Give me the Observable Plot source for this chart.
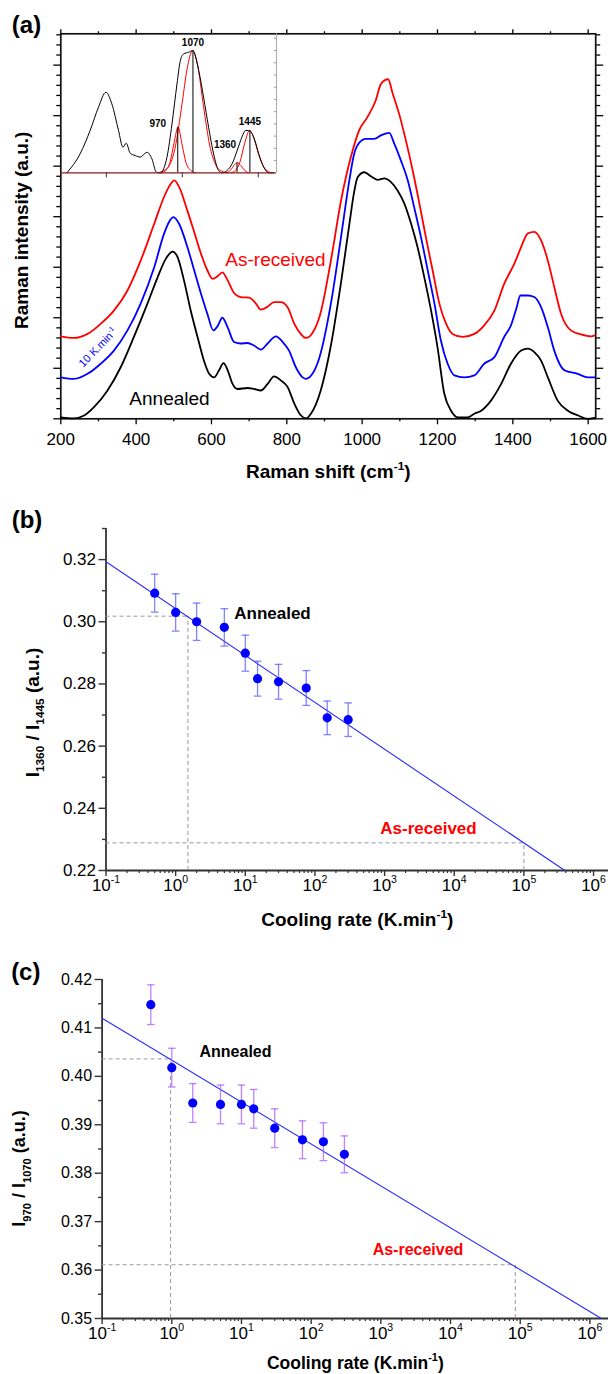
<!DOCTYPE html>
<html><head><meta charset="utf-8">
<script src="https://cdn.jsdelivr.net/npm/d3@7"></script>
<script src="https://cdn.jsdelivr.net/npm/@observablehq/plot@0.6"></script>
<style>
body{margin:0;background:#fff;}
#root{position:relative;width:608px;height:1374px;overflow:hidden;}
#root svg{display:block;}
#pa{position:relative;width:608px;height:480px;}
#pa > svg.inset{position:absolute;left:0;top:0;}
</style></head><body>
<div id="root"><div id="pa"></div><div id="pb"></div><div id="pc"></div></div>
<script>
// ---------------- Panel (a): Raman spectra ----------------
const annealedShift = [200,235,262,288,324,359,394,430,457,479,497,510,527,545,563,580,594,607,620,632,643,656,669,696,713,731,749,766,784,802,820,837,851,864,890,917,944,966,979,988,1006,1023,1041,1059,1076,1094,1112,1130,1147,1165,1183,1200,1218,1236,1254,1280,1298,1316,1342,1369,1395,1422,1440,1457,1475,1493,1519,1546,1572,1599,1617];
const annealedInt   = [0.03,0.01,0.065,0.23,0.56,1.02,1.62,2.28,2.80,3.17,3.31,3.20,2.74,2.14,1.62,1.15,0.89,0.82,0.96,1.10,0.96,0.69,0.59,0.61,0.59,0.56,0.69,0.84,0.76,0.63,0.30,0.07,0.01,0.10,0.56,1.45,2.70,3.85,4.50,4.78,4.88,4.80,4.73,4.76,4.69,4.52,4.26,3.86,3.40,2.80,2.14,1.42,0.50,0.16,0.03,0.03,0.10,0.16,0.36,0.69,1.09,1.35,1.39,1.32,1.15,0.82,0.36,0.16,0.07,0.00,0.02];
const cooled10Shift = [200,235,271,306,341,377,412,448,474,487,499,514,536,554,572,589,605,616,629,643,660,678,696,713,731,749,771,789,806,824,842,851,868,886,917,944,966,979,992,1010,1032,1050,1072,1085,1103,1121,1138,1156,1174,1192,1209,1227,1245,1271,1298,1324,1351,1377,1395,1410,1420,1440,1457,1475,1493,1510,1537,1572,1599,1617];
const cooled10Int   = [0.82,0.79,0.89,1.09,1.35,1.75,2.28,3.00,3.66,3.89,3.99,3.86,3.40,2.94,2.48,2.08,1.75,1.83,2.00,1.81,1.52,1.49,1.50,1.45,1.37,1.49,1.63,1.52,1.35,1.02,0.82,0.79,0.89,1.20,2.28,3.60,4.72,5.25,5.46,5.54,5.54,5.61,5.66,5.45,5.11,4.72,4.19,3.60,2.94,2.28,1.55,1.09,0.86,0.82,0.86,1.09,1.22,1.62,1.85,2.20,2.44,2.44,2.41,2.21,1.81,1.35,0.96,0.89,0.82,0.82];
const asReceivedShift = [200,235,271,306,341,377,412,448,474,487,501,514,536,554,572,589,603,616,629,643,660,678,700,718,731,749,766,784,802,820,837,851,868,888,917,944,970,992,1014,1036,1050,1069,1081,1098,1116,1134,1152,1169,1187,1205,1223,1240,1267,1298,1324,1351,1377,1404,1422,1440,1457,1475,1493,1510,1528,1554,1581,1608,1617];
const asReceivedInt   = [1.63,1.60,1.68,1.88,2.14,2.54,3.13,3.86,4.39,4.59,4.72,4.59,4.12,3.70,3.27,2.94,2.77,2.82,2.90,2.74,2.49,2.41,2.40,2.28,2.16,2.22,2.31,2.31,2.21,1.88,1.68,1.60,1.70,2.05,3.13,4.32,5.18,5.71,5.97,6.30,6.63,6.72,6.44,6.04,5.51,4.92,4.26,3.60,2.94,2.28,1.88,1.68,1.62,1.68,1.85,2.14,2.67,3.07,3.40,3.67,3.70,3.53,3.13,2.61,2.08,1.75,1.67,1.63,1.65];
const shiftMajorTicks = [200,400,600,800,1000,1200,1400,1600];
const shiftMinorTicks = [300,500,700,900,1100,1300,1500];
const intMajorTicks = [0,1,2,3,4,5,6,7];
const intMinorTicks = [0.2,0.4,0.6,0.8,1.2,1.4,1.6,1.8,2.2,2.4,2.6,2.8,3.2,3.4,3.6,3.8,4.2,4.4,4.6,4.8,5.2,5.4,5.6,5.8,6.2,6.4,6.6,6.8,7.2,7.4,7.6];

// inset (deconvolution of the as-received spectrum)
const insetShift = [240,327,393,448,497,536,580,609,631,657,690,723,767,800,829,855,899,932,965,987,1009,1042,1068,1108,1140,1173,1206,1239,1262,1295,1328,1361,1394,1415,1437,1470,1503,1536,1569,1600];
const insetInt   = [0,0.155,0.346,0.536,0.659,0.564,0.346,0.209,0.242,0.160,0.141,0.128,0.168,0.114,0.005,0,0.128,0.40,0.728,0.918,0.973,0.986,1.0,0.836,0.618,0.373,0.155,0.019,0,0.019,0.074,0.182,0.297,0.346,0.346,0.291,0.155,0.046,0,0];
const peak970Shift  = [860,890,920,945,972,1000,1025,1055,1085];
const peak970Int    = [0,0.02,0.09,0.24,0.373,0.22,0.08,0.02,0];
const peak1070Shift = [850,900,950,1000,1030,1068,1100,1140,1180,1220,1260,1300];
const peak1070Int   = [0.004,0.035,0.19,0.58,0.84,1.0,0.886,0.54,0.227,0.065,0.013,0];
const peak1360Shift = [1290,1320,1340,1361,1385,1410,1435];
const peak1360Int   = [0,0.025,0.06,0.082,0.06,0.02,0];
const peak1445Shift = [1320,1350,1380,1410,1443,1475,1505,1535,1565,1590];
const peak1445Int   = [0,0.02,0.09,0.24,0.346,0.27,0.14,0.05,0.01,0];
const peakCenters = [970,1070,1360,1445];
const peakHeights = [0.373,1.0,0.082,0.346];
const peakLabels  = ["970","1070","1360","1445"];
const insetYTicks = [0.1,0.2,0.3,0.4,0.5,0.6,0.7,0.8,0.9,1.0,1.1];
const insetXTicks = [500,1000,1500];

// ---------------- Panels (b) and (c) ----------------
const coolingRates = [0.5,1,2,5,10,15,30,75,150,300];
const ratioB = [0.3092,0.3030,0.3000,0.2982,0.2899,0.2817,0.2807,0.2787,0.2691,0.2685];
const errB   = [0.0061,0.0060,0.0060,0.0060,0.0058,0.0056,0.0056,0.0056,0.0054,0.0054];
const fitRateB  = [0.1,3.87e5];
const fitRatioB = [0.3193,0.22];
const annealedB   = {rate:1.5, ratio:0.3018};
const asReceivedB = {rate:1e5, ratio:0.2289};

const ratioC = [0.4148,0.4018,0.3945,0.3942,0.3942,0.3933,0.3893,0.3869,0.3865,0.3839];
const errC   = [0.0041,0.0040,0.0040,0.0040,0.0040,0.0040,0.0040,0.0039,0.0039,0.0038];
const fitRateC  = [0.1,1.46e6];
const fitRatioC = [0.4120,0.35];
const annealedC   = {rate:0.96, ratio:0.4036};
const asReceivedC = {rate:8.5e4, ratio:0.3611};

const decadeExps = [-1,0,1,2,3,4,5,6];
const ratioTicksB = [0.22,0.24,0.26,0.28,0.30,0.32];
const ratioMinorB = [0.23,0.25,0.27,0.29,0.31,0.33];
const ratioTicksC = [0.35,0.36,0.37,0.38,0.39,0.40,0.41,0.42];
const ratioMinorC = [0.355,0.365,0.375,0.385,0.395,0.405,0.415];

// ---------------- helpers ----------------
const FONT = '"Liberation Sans", Arial, Helvetica, sans-serif';
const style = {fontFamily: FONT, fontSize: "16px", background: "transparent", color: "#000", overflow: "visible"};
const rows = (xs, ys) => xs.map((x, i) => ({x, y: ys[i]}));
const decadeTicks = decadeExps.map(e => 10 ** e);
const minorLogTicks = max => decadeExps.flatMap(e => [2,3,4,5,6,7,8,9].map(k => k * 10 ** e)).filter(v => v <= max);
const logFmt = d => "10^{" + Math.round(Math.log10(d)) + "}";
const blank = () => "";
const capSymbol = {draw(ctx) { ctx.moveTo(-3.8, 0); ctx.lineTo(3.8, 0); }};
const C = {textAnchor: "middle", lineAnchor: "middle", text: d => d};

function richText(root) {
  const NS = "http://www.w3.org/2000/svg";
  root.querySelectorAll("text").forEach(t => {
    const s = t.textContent;
    if (!/[\^_]\{/.test(s)) return;
    const fs = parseFloat(getComputedStyle(t).fontSize) || 16;
    const parts = []; const re = /([\^_])\{([^}]*)\}/g; let last = 0, m;
    while ((m = re.exec(s))) {
      if (m.index > last) parts.push([s.slice(last, m.index), 0]);
      parts.push([m[2], m[1] === "^" ? 1 : -1]);
      last = re.lastIndex;
    }
    if (last < s.length) parts.push([s.slice(last), 0]);
    while (t.firstChild) t.removeChild(t.firstChild);
    let cur = 0;
    for (const [str, k] of parts) {
      const ts = document.createElementNS(NS, "tspan");
      const target = k > 0 ? -0.42 * fs : k < 0 ? 0.3 * fs : 0;
      if (target !== cur) ts.setAttribute("dy", (target - cur).toFixed(2));
      cur = target;
      if (k !== 0) ts.setAttribute("font-size", (0.62 * fs).toFixed(1));
      ts.textContent = str;
      t.appendChild(ts);
    }
  });
}

// ---------------- Panel (a) ----------------
const pa = Plot.plot({
  width: 608, height: 480,
  marginLeft: 60.3, marginRight: 12.8, marginTop: 33.3, marginBottom: 61.7,
  style,
  x: {domain: [200, 1620], label: null},
  y: {domain: [0, 7.62], label: null},
  marks: [
    Plot.axisX({anchor: "bottom", ticks: shiftMajorTicks, tickSize: 6, tickPadding: 8, fontSize: 17, tickFormat: d => String(d), label: null, strokeWidth: 1.3}),
    Plot.axisX({anchor: "bottom", ticks: shiftMinorTicks, tickSize: 3, tickFormat: blank, label: null, strokeWidth: 1.3}),
    Plot.axisX({anchor: "top", ticks: shiftMajorTicks, tickSize: 5, tickFormat: blank, label: null, strokeWidth: 1.3}),
    Plot.axisX({anchor: "top", ticks: shiftMinorTicks, tickSize: 3, tickFormat: blank, label: null, strokeWidth: 1.3}),
    Plot.axisY({anchor: "left", ticks: intMajorTicks, tickSize: 7, tickFormat: blank, label: null, strokeWidth: 1.3}),
    Plot.axisY({anchor: "left", ticks: intMinorTicks, tickSize: 4, tickFormat: blank, label: null, strokeWidth: 1.3}),
    Plot.axisY({anchor: "right", ticks: intMajorTicks, tickSize: 7, tickFormat: blank, label: null, strokeWidth: 1.3}),
    Plot.axisY({anchor: "right", ticks: intMinorTicks, tickSize: 4, tickFormat: blank, label: null, strokeWidth: 1.3}),
    Plot.frame({stroke: "#111", strokeWidth: 1.7}),
    Plot.line(rows(annealedShift, annealedInt), {x: "x", y: "y", stroke: "#000000", strokeWidth: 1.8, curve: "monotone-x"}),
    Plot.line(rows(cooled10Shift, cooled10Int), {x: "x", y: "y", stroke: "#0000ff", strokeWidth: 1.8, curve: "monotone-x"}),
    Plot.line(rows(asReceivedShift, asReceivedInt), {x: "x", y: "y", stroke: "#ff0000", strokeWidth: 1.8, curve: "monotone-x"}),
    Plot.text(["As-received"], {...C, frameAnchor: "top-left", dx: 214.7, dy: 225.7, fontSize: 19, fill: "#ff0000"}),
    Plot.text(["Annealed"], {...C, frameAnchor: "top-left", dx: 108.7, dy: 364.7, fontSize: 19, fill: "#000"}),
    Plot.text(["10 K.min^{-1}"], {...C, frameAnchor: "top-left", dx: 37.2, dy: 313.7, fontSize: 11, fill: "#0000ff", rotate: -46}),
    Plot.text(["(a)"], {...C, frameAnchor: "top-left", dx: -34.3, dy: -8.3, fontSize: 24, fontWeight: "bold"}),
    Plot.text(["Raman intensity (a.u.)"], {...C, frameAnchor: "left", dx: -39, dy: 4, rotate: -90, fontSize: 19, fontWeight: "bold"}),
    Plot.text(["Raman shift (cm^{-1})"], {...C, frameAnchor: "bottom", dy: 53.4, fontSize: 19, fontWeight: "bold"})
  ]
});

const inset = Plot.plot({
  width: 608, height: 185,
  marginLeft: 60.3, marginRight: 332, marginTop: 33.3, marginBottom: 12.7,
  style,
  x: {domain: [200, 1620], label: null},
  y: {domain: [0, 1.137], label: null},
  marks: [
    Plot.axisX({anchor: "bottom", ticks: insetXTicks, tickSize: 5, tickFormat: blank, label: null, stroke: "#333"}),
    Plot.axisY({anchor: "right", ticks: insetYTicks, tickSize: -3, tickFormat: blank, label: null, stroke: "#999"}),
    Plot.ruleX([1620], {stroke: "#aaa", strokeWidth: 1}),
    Plot.line(rows(peak970Shift, peak970Int), {x: "x", y: "y", stroke: "#ff0000", strokeWidth: 1, curve: "monotone-x"}),
    Plot.line(rows(peak1070Shift, peak1070Int), {x: "x", y: "y", stroke: "#ff0000", strokeWidth: 1, curve: "monotone-x"}),
    Plot.line(rows(peak1360Shift, peak1360Int), {x: "x", y: "y", stroke: "#ff0000", strokeWidth: 1, curve: "monotone-x"}),
    Plot.line(rows(peak1445Shift, peak1445Int), {x: "x", y: "y", stroke: "#ff0000", strokeWidth: 1, curve: "monotone-x"}),
    Plot.line(rows(insetShift, insetInt), {x: "x", y: "y", stroke: "#000", strokeWidth: 1, curve: "monotone-x"}),
    Plot.ruleX(peakCenters, {x: d => d, y1: 0, y2: (d, i) => peakHeights[i], stroke: "#000", strokeWidth: 1}),
    Plot.ruleY([0], {stroke: "#8a1c1c", strokeWidth: 1.3}),
    Plot.text([0], {x: () => peakCenters[0], y: () => peakHeights[0], text: () => peakLabels[0], dx: -20, dy: -3, fontSize: 10, fontWeight: "bold"}),
    Plot.text([1], {x: () => peakCenters[1], y: () => peakHeights[1], text: () => peakLabels[1], dx: 0, dy: -7.5, fontSize: 10, fontWeight: "bold"}),
    Plot.text([2], {x: () => peakCenters[2], y: () => peakHeights[2], text: () => peakLabels[2], dx: -12, dy: -18, fontSize: 10, fontWeight: "bold"}),
    Plot.text([3], {x: () => peakCenters[3], y: () => peakHeights[3], text: () => peakLabels[3], dx: 0, dy: -9, fontSize: 10, fontWeight: "bold"})
  ]
});
inset.classList.add("inset");

// ---------------- Panels (b), (c) builder ----------------
function ratioPanel(o) {
  const data = coolingRates.map((r, i) => ({rate: r, ratio: o.ratio[i], err: o.err[i]}));
  const fit = rows(o.fitRate, o.fitRatio);
  const [ymin] = o.yDomain, [xmin, xmax] = o.xDomain;
  return Plot.plot({
    width: 608, height: o.height,
    marginLeft: o.left, marginRight: 0, marginTop: o.top, marginBottom: o.bottom,
    style,
    x: {type: "log", domain: o.xDomain, label: null},
    y: {domain: o.yDomain, label: null},
    marks: [
      Plot.axisY({anchor: "left", ticks: o.yTicks, tickSize: 7, tickPadding: 3, fontSize: o.tickFont, tickFormat: d => d.toFixed(2), label: null, stroke: "#333", strokeWidth: 1.4}),
      Plot.axisY({anchor: "left", ticks: o.yMinor, tickSize: 3.5, tickFormat: blank, label: null, stroke: "#333", strokeWidth: 1.4}),
      Plot.axisX({anchor: "bottom", ticks: decadeTicks, tickSize: 6, tickPadding: 2, fontSize: 17, tickFormat: logFmt, label: null, stroke: "#333", strokeWidth: 1.4}),
      Plot.axisX({anchor: "bottom", ticks: minorLogTicks(xmax), tickSize: 3, tickFormat: blank, label: null, stroke: "#333", strokeWidth: 1.2}),
      Plot.ruleX([xmin], {stroke: "#333", strokeWidth: 1.8}),
      Plot.ruleY([ymin], {stroke: "#333", strokeWidth: 1.8}),
      Plot.ruleY([o.annealed], {y: "ratio", x1: xmin, x2: "rate", stroke: "#999", strokeWidth: 1, strokeDasharray: "4,3"}),
      Plot.ruleX([o.annealed], {x: "rate", y1: ymin, y2: "ratio", stroke: "#999", strokeWidth: 1, strokeDasharray: "4,3"}),
      Plot.ruleY([o.asReceived], {y: "ratio", x1: xmin, x2: "rate", stroke: "#999", strokeWidth: 1, strokeDasharray: "4,3"}),
      Plot.ruleX([o.asReceived], {x: "rate", y1: ymin, y2: "ratio", stroke: "#999", strokeWidth: 1, strokeDasharray: "4,3"}),
      Plot.line(fit, {x: "x", y: "y", stroke: "#2a2aff", strokeWidth: 1.1}),
      Plot.ruleX(data, {x: "rate", y1: d => d.ratio - d.err, y2: d => d.ratio + d.err, stroke: o.errColor, strokeWidth: 1.3}),
      Plot.dot(data, {x: "rate", y: d => d.ratio + d.err, symbol: capSymbol, stroke: o.errColor, strokeWidth: 1.3, fill: "none"}),
      Plot.dot(data, {x: "rate", y: d => d.ratio - d.err, symbol: capSymbol, stroke: o.errColor, strokeWidth: 1.3, fill: "none"}),
      Plot.dot(data, {x: "rate", y: "ratio", r: 4.6, fill: "#0000ff", stroke: "none"}),
      Plot.text(["Annealed"], {...C, frameAnchor: "top-left", dx: o.annDx, dy: o.annDy, fontSize: o.labelFont, fontWeight: "bold", fill: "#000"}),
      Plot.text(["As-received"], {...C, frameAnchor: "top-left", dx: o.asrDx, dy: o.asrDy, fontSize: o.labelFont, fontWeight: "bold", fill: "#ff0000"}),
      Plot.text([o.panel], {...C, frameAnchor: "top-left", dx: o.panelDx, dy: o.panelDy, fontSize: 24, fontWeight: "bold"}),
      Plot.text([o.yTitle], {...C, frameAnchor: "left", dx: o.yTitleDx, dy: o.yTitleDy, rotate: -90, fontSize: o.titleFont, fontWeight: "bold"}),
      Plot.text(["Cooling rate (K.min^{-1})"], {...C, frameAnchor: "bottom", dy: o.xTitleDy, fontSize: o.xTitleFont, fontWeight: "bold"})
    ]
  });
}

const pb = ratioPanel({
  ratio: ratioB, err: errB, fitRate: fitRateB, fitRatio: fitRatioB,
  annealed: annealedB, asReceived: asReceivedB,
  xDomain: [0.1, 1.64e6], yDomain: [0.22, 0.33], yTicks: ratioTicksB, yMinor: ratioMinorB,
  height: 455, left: 105.5, top: 48, bottom: 65, tickFont: 17, labelFont: 17, titleFont: 19, xTitleFont: 19,
  errColor: "rgba(90,90,255,0.75)",
  annDx: 166.5, annDy: 85, asrDx: 322.5, asrDy: 299.7,
  panel: "(b)", panelDx: -79, panelDy: -8,
  yTitle: "I_{1360} / I_{1445} (a.u.)", yTitleDx: -73.5, yTitleDy: 13, xTitleDy: 49
});

const pc = ratioPanel({
  ratio: ratioC, err: errC, fitRate: fitRateC, fitRatio: fitRatioC,
  annealed: annealedC, asReceived: asReceivedC,
  xDomain: [0.1, 1.85e6], yDomain: [0.35, 0.42], yTicks: ratioTicksC, yMinor: ratioMinorC,
  height: 439, left: 101.6, top: 44, bottom: 56, tickFont: 16, labelFont: 16, titleFont: 18, xTitleFont: 17.5,
  errColor: "rgba(170,90,255,0.75)",
  annDx: 133.4, annDy: 72, asrDx: 315.9, asrDy: 270,
  panel: "(c)", panelDx: -76.3, panelDy: -7.3,
  yTitle: "I_{970} / I_{1070} (a.u.)", yTitleDx: -82.6, yTitleDy: 19.5, xTitleDy: 44.5
});

document.getElementById("pa").append(pa, inset);
document.getElementById("pb").append(pb);
document.getElementById("pc").append(pc);
[pa, inset, pb, pc].forEach(richText);
</script>
</body></html>
